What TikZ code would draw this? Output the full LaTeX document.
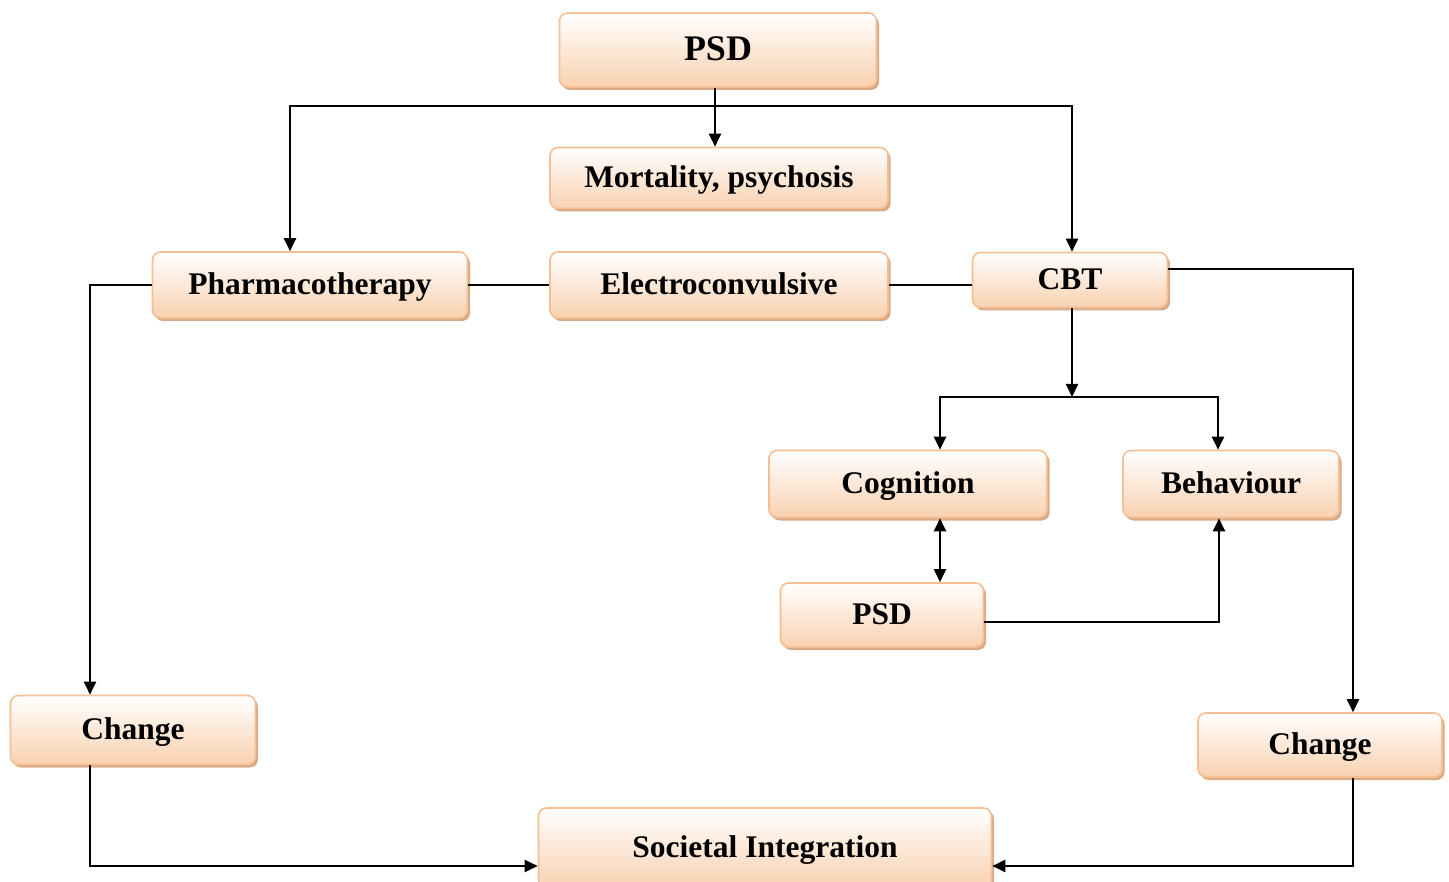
\documentclass[tikz,border=0pt]{standalone}
\usepackage{fontspec}
\setmainfont{Liberation Serif}
\usepackage{xcolor}
\usetikzlibrary{arrows.meta,shadows}
\definecolor{boxLine}{HTML}{F5BE93}
\definecolor{boxFill}{HTML}{F9D1B0}
\definecolor{boxShade}{HTML}{D9AA86}
\tikzset{
    flowBox/.style={
        draw=boxLine,
        line width=1.6pt,
        rounded corners=8pt,
        top color=white,
        bottom color=boxFill,
        drop shadow={shadow xshift=2.5pt,shadow yshift=-3pt,fill=boxShade,opacity=1},
        align=center,
        inner sep=0pt,
        text depth=2pt,
        font=\bfseries\fontsize{31.5}{36}\selectfont
    },
    flowArrow/.style={
        -{Triangle[length=13pt,width=12pt]},
        line width=2pt
    },
    flowBoth/.style={
        {Triangle[length=13pt,width=12pt]}-{Triangle[length=13pt,width=12pt]},
        line width=2pt
    },
    flowLine/.style={
        line width=2pt
    }
}

\begin{document}
\begin{tikzpicture}[x=1pt,y=-1pt]
        \useasboundingbox (0,0) rectangle (1449,882);

        \node[flowBox,minimum width=317pt,minimum height=74pt,font=\bfseries\fontsize{36}{40}\selectfont] (psdTop) at (718,50) {PSD};
        \node[flowBox,minimum width=338pt,minimum height=61pt] (mortality) at (719,178) {Mortality, psychosis};

        \node[flowBox,minimum width=315pt,minimum height=66pt] (pharma) at (310,285) {Pharmacotherapy};
        \node[flowBox,minimum width=338pt,minimum height=66pt] (electro) at (719,285) {Electroconvulsive};
        \node[flowBox,minimum width=195pt,minimum height=55pt] (cbt) at (1070,280) {CBT};

        \node[flowBox,minimum width=278pt,minimum height=67pt] (cognition) at (908,484) {Cognition};
        \node[flowBox,minimum width=216pt,minimum height=67pt] (behaviour) at (1231,484) {Behaviour};
        \node[flowBox,minimum width=203pt,minimum height=64pt] (psdLow) at (882,615) {PSD};

        \node[flowBox,minimum width=245pt,minimum height=69pt] (changeL) at (133,730) {Change};
        \node[flowBox,minimum width=244pt,minimum height=64pt] (changeR) at (1320,745) {Change};
        \node[flowBox,minimum width=453pt,minimum height=80pt] (societal) at (765,848) {Societal Integration};

        \coordinate (topSplit) at (715,106);
        \coordinate (cbtSplit) at (1072,397);

        \draw[flowArrow] ([xshift=-3pt]psdTop.south) -- ([xshift=-4pt]mortality.north);
        \draw[flowArrow] (topSplit) -| ([xshift=-20pt]pharma.north);
        \draw[flowArrow] (topSplit) -| ([xshift=2pt]cbt.north);

        \draw[flowLine] (pharma.east) -- (electro.west);
        \draw[flowLine] (electro.east) -- (electro.east -| cbt.west);

        \draw[flowArrow] (pharma.west) -| ([xshift=-43pt]changeL.north);
        \draw[flowArrow] ([yshift=11pt]cbt.east) -| ([xshift=33pt]changeR.north);

        \draw[flowArrow] ([xshift=2pt]cbt.south) -- (cbtSplit);
        \draw[flowArrow] (cbtSplit) -| ([xshift=32pt]cognition.north);
        \draw[flowArrow] (cbtSplit) -| ([xshift=-13pt]behaviour.north);

        \draw[flowBoth] ([xshift=32pt]cognition.south) -- ([xshift=32pt]cognition.south |- psdLow.north);
        \draw[flowArrow] ([yshift=-7pt]psdLow.east) -| ([xshift=-12pt]behaviour.south);

        \draw[flowArrow] ([xshift=-43pt]changeL.south) |- ([yshift=-18pt]societal.west);
        \draw[flowArrow] ([xshift=33pt]changeR.south) |- ([yshift=-18pt]societal.east);
    \end{tikzpicture}
\end{document}
